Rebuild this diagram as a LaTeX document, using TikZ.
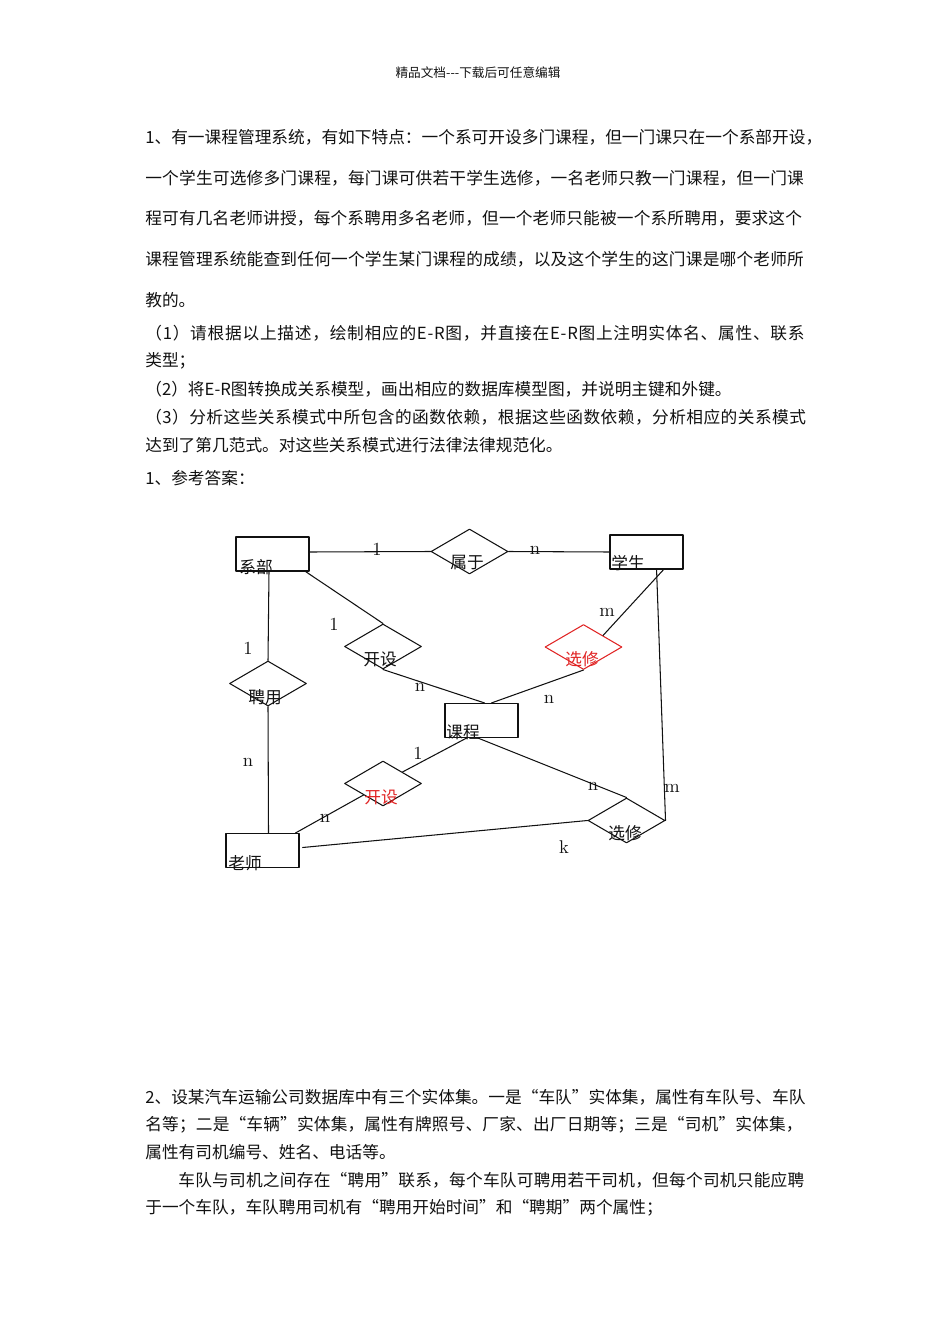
\documentclass[tikz,border=0pt]{standalone}
\usepackage{fontspec}
\usepackage{xcolor}
\usepackage{tikz}
\usetikzlibrary{shapes.geometric}
\newfontfamily\cjk{Noto Sans CJK SC}
\definecolor{erInk}{HTML}{111111}
\definecolor{erRed}{HTML}{E02424}
\tikzset{
  er page/.style={x=0.02cm, y=-0.02cm, text=erInk, line cap=round, line join=round},
  er box/.style={draw=erInk, line width=0.65pt, rectangle, minimum width=1.46cm,
    minimum height=0.68cm, inner sep=0pt},
  er rel/.style={draw=erInk, line width=0.6pt, diamond, minimum width=1.54cm,
    minimum height=0.9cm, inner sep=0pt},
  er name/.style={font=\cjk\fontsize{9.5}{11}\selectfont, inner sep=0pt},
  er card/.style={font=\fontsize{10.5}{12}\selectfont, inner sep=0pt},
  er line/.style={draw=erInk, line width=0.6pt},
  doc line/.style={font=\cjk\fontsize{9.5}{11}\selectfont, anchor=west, inner sep=0pt},
  doc spread/.style={doc line,
    font=\cjk\fontsize{9.5}{11}\selectfont\addfontfeatures{LetterSpace=#1}},
  doc head/.style={font=\cjk\fontsize{7.2}{9}\selectfont, inner sep=0pt}
}
\begin{document}
\begin{tikzpicture}[er page]
\useasboundingbox (0,0) rectangle (950,1344);
% header
\node[doc head] (head) at (478,73) {精品文档---下载后可任意编辑};
% question 1
\node[doc line] (q1a) at (145,137) {1、有一课程管理系统，有如下特点：一个系可开设多门课程，但一门课只在一个系部开设，};
\node[doc spread=1.2] (q1b) at (145,178) {一个学生可选修多门课程，每门课可供若干学生选修，一名老师只教一门课程，但一门课};
\node[doc spread=0.9] (q1c) at (145,218) {程可有几名老师讲授，每个系聘用多名老师，但一个老师只能被一个系所聘用，要求这个};
\node[doc spread=1.2] (q1d) at (145,259) {课程管理系统能查到任何一个学生某门课程的成绩，以及这个学生的这门课是哪个老师所};
\node[doc line] (q1e) at (145,300) {教的。};
\node[doc spread=4.5] (p1a) at (145,333) {（1）请根据以上描述，绘制相应的E-R图，并直接在E-R图上注明实体名、属性、联系};
\node[doc line] (p1b) at (145,361) {类型；};
\node[doc line] (p2a) at (145,389) {（2）将E-R图转换成关系模型，画出相应的数据库模型图，并说明主键和外键。};
\node[doc spread=2.7] (p3a) at (145,417) {（3）分析这些关系模式中所包含的函数依赖，根据这些函数依赖，分析相应的关系模式};
\node[doc line] (p3b) at (145,445) {达到了第几范式。对这些关系模式进行法律法律规范化。};
\node[doc line] (ans) at (145,478) {1、参考答案：};

% entities
\node[er box] (dept) at (272.5,554) {};
\node[er box] (stu) at (646.5,552) {};
\node[er box] (course) at (481.5,720.5) {};
\node[er box] (teacher) at (262.5,850.5) {};
\node[er name] (deptT) at (256,567) {系部};
\node[er name] (stuT) at (628,563) {学生};
\node[er name] (courseT) at (463,732) {课程};
\node[er name] (teacherT) at (245,863) {老师};

% relationships
\node[er rel] (belong) at (469.5,551.5) {};
\node[er rel] (open) at (383,646.5) {};
\node[er rel, draw=erRed] (choose) at (583.5,647) {};
\node[er rel] (hire) at (268,683.5) {};
\node[er rel] (teach) at (383,783.5) {};
\node[er rel] (grade) at (626.5,820.5) {};
\node[er name] (belongT) at (467,563) {属于};
\node[er name] (openT) at (380,659) {开设};
\node[er name, text=erRed] (chooseT) at (582,659) {选修};
\node[er name] (hireT) at (265,697) {聘用};
\node[er name, text=erRed] (teachT) at (381,797) {开设};
\node[er name] (gradeT) at (625,833) {选修};

% connectors
\draw[er line] ([yshift=0.04cm]dept.east) -- (belong.west);
\draw[er line] (belong.east) -- (stu.west);
\draw[er line] ([xshift=-0.08cm]dept.south east) -- (open.north);
\draw[er line] ([xshift=-0.4cm]stu.south east) -- (choose.north east);
\draw[er line] ([xshift=-0.07cm]dept.south) -- (hire.north);
\draw[er line] (open.south) -- ([xshift=0.06cm]course.north);
\draw[er line] (choose.south) -- ([xshift=0.2cm]course.north);
\draw[er line] (hire.south) -- ([xshift=0.12cm]teacher.north);
\draw[er line] ([xshift=-0.3cm]course.south) -- (teach.north east);
\draw[er line] (teach.south west) -- ([xshift=-0.08cm]teacher.north east);
\draw[er line] ([xshift=-0.07cm]course.south) -- (grade.north);
\draw[er line] ([xshift=-0.54cm]stu.south east) -- (grade.east);
\draw[er line] ([xshift=0.06cm,yshift=0.06cm]teacher.east) -- (grade.west);

% cardinalities
\node[er card] (c1) at (377,549) {1};
\node[er card] (c2) at (535,550) {n};
\node[er card] (c3) at (334,624) {1};
\node[er card] (c4) at (248,648) {1};
\node[er card] (c5) at (607,612) {m};
\node[er card] (c6) at (420,687) {n};
\node[er card] (c7) at (549,699) {n};
\node[er card] (c8) at (248,762) {n};
\node[er card] (c9) at (418,753) {1};
\node[er card] (c10) at (593,786) {n};
\node[er card] (c11) at (672,788) {m};
\node[er card] (c12) at (325,818) {n};
\node[er card] (c13) at (564,847) {k};

% question 2
\node[doc line] (q2a) at (145,1097) {2、设某汽车运输公司数据库中有三个实体集。一是“车队”实体集，属性有车队号、车队};
\node[doc spread=1.0] (q2b) at (145,1125) {名等；二是“车辆”实体集，属性有牌照号、厂家、出厂日期等；三是“司机”实体集，};
\node[doc line] (q2c) at (145,1152) {属性有司机编号、姓名、电话等。};
\node[doc spread=1.4] (q2d) at (178,1180) {车队与司机之间存在“聘用”联系，每个车队可聘用若干司机，但每个司机只能应聘};
\node[doc line] (q2e) at (145,1208) {于一个车队，车队聘用司机有“聘用开始时间”和“聘期”两个属性；};
\end{tikzpicture}
\end{document}
